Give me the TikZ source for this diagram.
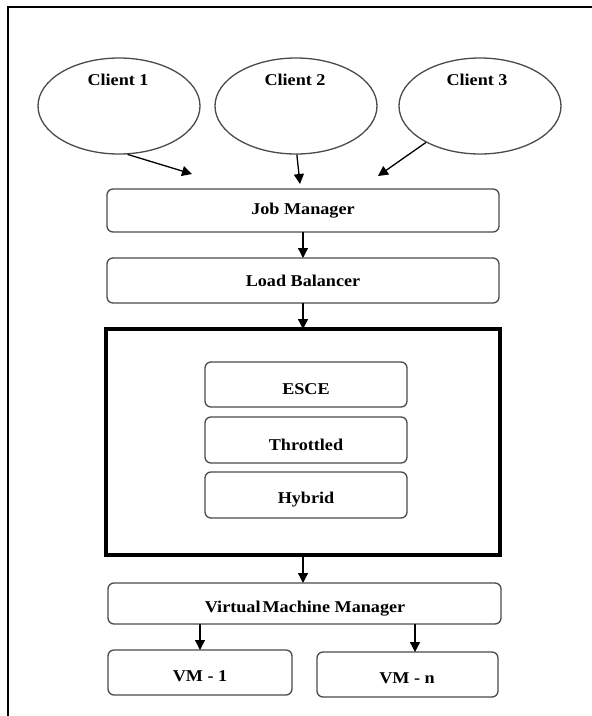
\documentclass[tikz,border=0pt]{standalone}
\usepackage{fontspec}
\setmainfont{Liberation Serif}[FakeStretch=1.1]
\usetikzlibrary{arrows.meta,shapes.geometric}
\definecolor{boxline}{HTML}{4A4A4A}
\tikzset{
  lbl/.style={font=\fontsize{16.5}{18}\selectfont\bfseries, text=black, inner sep=0pt},
  rbox/.style={draw=boxline, line width=1.3pt, rounded corners=6pt},
  cli/.style={draw=boxline, line width=1.3pt, ellipse, minimum width=162pt, minimum height=96pt, inner sep=0pt},
  arr/.style={line width=1.3pt, -{Triangle[width=10pt,length=10pt]}},
}
\begin{document}
\begin{tikzpicture}[x=1pt,y=-1pt]
\useasboundingbox (0,0) rectangle (592,716);
% outer frame (top and left)
\draw[line width=2.5pt] (8,716) -- (8,7) -- (592,7);
% clients
\node[cli] (c1) at (119,106) {};
\node[cli] (c2) at (296,106) {};
\node[cli] (c3) at (480,106) {};
\node[lbl] (c1t) at (118,80) {Client 1};
\node[lbl] (c2t) at (295,80) {Client 2};
\node[lbl] (c3t) at (477,80) {Client 3};
% boxes
\draw[rbox] (107,189) rectangle (499,232);
\node[lbl] (jm) at (303,211) {Job Manager};
\draw[rbox] (107,258) rectangle (499,303);
\node[lbl] (lb) at (303,281) {Load Balancer};
\draw[line width=3.5pt, line cap=round] (106,329) rectangle (500,555);
\draw[rbox] (205,362) rectangle (407,407);
\node[lbl] (esce) at (306,389) {ESCE};
\draw[rbox] (205,417) rectangle (407,463);
\node[lbl] (thr) at (306,445) {Throttled};
\draw[rbox] (205,472) rectangle (407,518);
\node[lbl] (hyb) at (306,500) {Hybrid};
\draw[rbox] (108,583) rectangle (501,624);
\node[lbl] (vmm) at (305,609) {Virtual\kern2pt Machine Manager};
\draw[rbox] (108,650) rectangle (292,695);
\node[lbl] (vm1) at (200,676) {VM - 1};
\draw[rbox] (317,652) rectangle (498,697);
\node[lbl] (vmn) at (407,678) {VM - n};
% connector coordinates
\coordinate (t1) at (192,174);
\coordinate (t2) at (300,184);
\coordinate (t3) at (378,176);
\coordinate (jmb) at (303,232);
\coordinate (lbt) at (303,258);
\coordinate (lbb) at (303,303);
\coordinate (pbt) at (303,329);
\coordinate (pbb) at (303,557);
\coordinate (vmmt) at (303,583);
\coordinate (vmmb1) at (200,624);
\coordinate (vm1t) at (200,650);
\coordinate (vmmb2) at (415,624);
\coordinate (vmnt) at (415,652);
% connectors
\draw[arr] (c1.-80) -- (t1);
\draw[arr] (c2.-89) -- (t2);
\draw[arr] (c3.-146) -- (t3);
\draw[arr] (jmb) -- (lbt);
\draw[arr] (lbb) -- (pbt);
\draw[arr] (pbb) -- (vmmt);
\draw[arr] (vmmb1) -- (vm1t);
\draw[arr] (vmmb2) -- (vmnt);
\end{tikzpicture}
\end{document}
